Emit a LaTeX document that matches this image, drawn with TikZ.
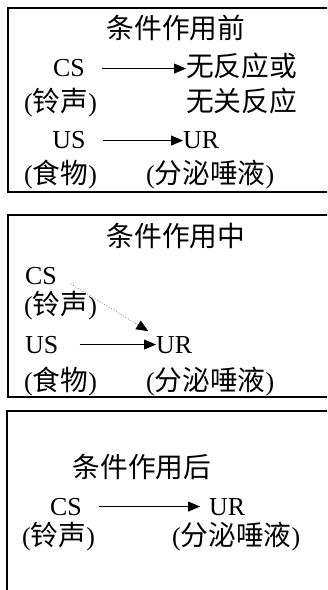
\documentclass[tikz,border=0pt]{standalone}
\usepackage{fontspec}
\setmainfont{Liberation Serif}
\newfontfamily\cjk[Scale=1.07]{Noto Sans CJK SC}
\newcommand{\zh}[1]{{\cjk #1}}
\usetikzlibrary{arrows.meta}

\begin{document}
\begin{tikzpicture}[x=1bp, y=-1bp,
  txt/.style={inner sep=0pt, anchor=base west, font=\fontsize{26}{30}\selectfont},
  ctxt/.style={txt, anchor=base},
  panel/.style={draw=black, line width=1.4bp},
  link/.style={-{Triangle[length=12bp,width=10bp]}, line width=0.9bp}]
  \clip (0,0) rectangle (327,590);
  % Panels
  \draw[panel] (8,8) rectangle (345,192);
  \draw[panel] (8,215) rectangle (345,397);
  \draw[panel] (7,411) rectangle (345,600);
  % Before conditioning
  \node[ctxt] (title1) at (176,39) {\zh{条件作用前}};
  \node[ctxt] (cs1) at (69,77) {CS};
  \node[txt] (nr1) at (186,77) {\zh{无反应或}};
  \node[txt] (bell1) at (24,112) {(\zh{铃声})};
  \node[txt] (nr1b) at (186,112) {\zh{无关反应}};
  \node[ctxt] (us1) at (69,149) {US};
  \node[txt] (ur1) at (183,149) {UR};
  \node[txt] (food1) at (24,183) {(\zh{食物})};
  \node[txt] (sal1) at (146,183) {(\zh{分泌唾液})};
  \draw[link, shorten <=17bp] (cs1.east) -- (cs1.east -| nr1.west);
  \draw[link, shorten <=17bp] (us1.east) -- (us1.east -| ur1.west);
  % During conditioning
  \node[ctxt] (title2) at (176,246) {\zh{条件作用中}};
  \node[txt] (cs2) at (25,284) {CS};
  \node[txt] (bell2) at (24,314) {(\zh{铃声})};
  \node[txt] (us2) at (25,353) {US};
  \node[txt] (ur2) at (156,353) {UR};
  \node[txt] (food2) at (24,390) {(\zh{食物})};
  \node[txt] (sal2) at (146,390) {(\zh{分泌唾液})};
  \draw[-{Triangle[length=12bp,width=10bp,color=black]}, dotted, gray, line width=0.8bp,
    shorten <=16bp, shorten >=9bp] (cs2.east) -- (ur2.north west);
  \draw[link, shorten <=21bp] (us2.east) -- (us2.east -| ur2.west);
  % After conditioning
  \node[ctxt] (title3) at (142,477) {\zh{条件作用后}};
  \node[ctxt] (cs3) at (66,515) {CS};
  \node[txt] (ur3) at (209,515) {UR};
  \node[txt] (bell3) at (22,545) {(\zh{铃声})};
  \node[txt] (sal3) at (172,545) {(\zh{分泌唾液})};
  \draw[link, shorten <=17bp, shorten >=9bp] (cs3.east) -- (cs3.east -| ur3.west);
\end{tikzpicture}
\end{document}
